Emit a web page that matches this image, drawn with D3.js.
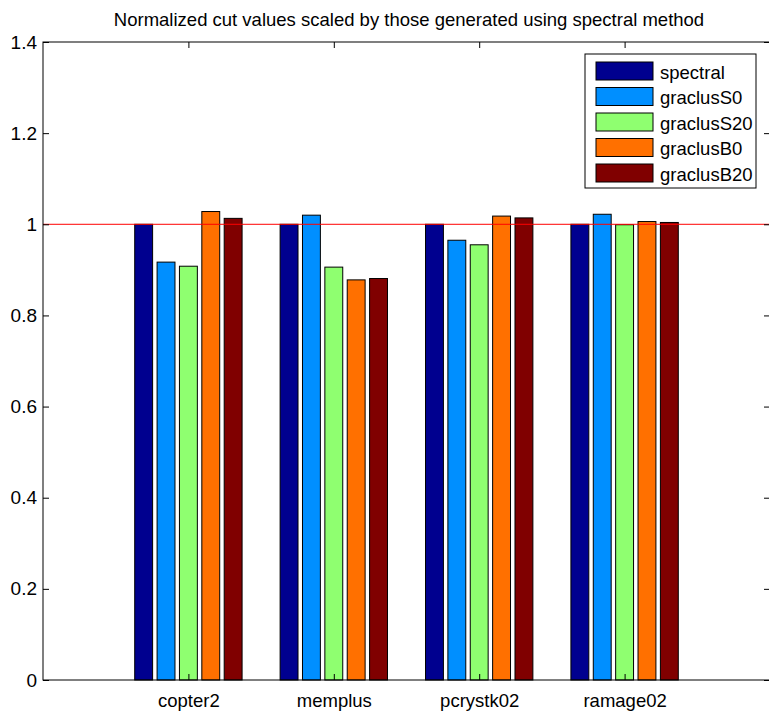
<!DOCTYPE html>
<html>
<head>
<meta charset="utf-8">
<script src="https://cdn.jsdelivr.net/npm/d3@7"></script>
<style>
  html, body { margin: 0; padding: 0; background: #fff; }
  svg { display: block; font-family: "Liberation Sans", Arial, Helvetica, sans-serif; }
</style>
</head>
<body>
<svg id="chart" width="769" height="712"></svg>
<script>
// Graphs on the x axis
const categories = ["copter2", "memplus", "pcrystk02", "ramage02"];
// Partitioning methods (one bar per method in each group)
const seriesNames = ["spectral", "graclusS0", "graclusS20", "graclusB0", "graclusB20"];
const seriesColors = ["#00008f", "#008fff", "#8fff70", "#ff7000", "#800000"];
// Normalized cut values, relative to the spectral method
const spectral   = [1.000, 1.000, 1.000, 1.000];
const graclusS0  = [0.917, 1.020, 0.965, 1.022];
const graclusS20 = [0.908, 0.906, 0.955, 0.999];
const graclusB0  = [1.028, 0.878, 1.018, 1.006];
const graclusB20 = [1.013, 0.881, 1.014, 1.004];
const yTicks = [0, 0.2, 0.4, 0.6, 0.8, 1, 1.2, 1.4];
const referenceLevel = 1;
const title = "Normalized cut values scaled by those generated using spectral method";

const seriesValues = [spectral, graclusS0, graclusS20, graclusB0, graclusB20];

const svg = d3.select("#chart");
const plotL = 43, plotR = 770, plotT = 42, plotB = 680;

// Categories sit at integer positions 1..n, axis runs 0..n+1
const x = d3.scaleLinear().domain([0, categories.length + 1]).range([plotL, plotR]);
const y = d3.scaleLinear().domain([0, 1.4]).range([plotB, plotT]);

const unit = x(1) - x(0);
const nS = seriesNames.length;
const groupWidth = Math.min(0.8, nS / (nS + 1.5));
const slot = groupWidth / nS;
const barW = slot * 0.8;

// Bars
seriesValues.forEach((vals, si) => {
  const offset = -groupWidth / 2 + slot * (si + 0.5);
  svg.append("g").selectAll("rect")
    .data(vals)
    .join("rect")
    .attr("x", (d, i) => x(i + 1 + offset) - barW * unit / 2)
    .attr("width", barW * unit)
    .attr("y", d => y(d))
    .attr("height", d => y(0) - y(d))
    .attr("fill", seriesColors[si])
    .attr("stroke", "#000")
    .attr("stroke-width", 1);
});

// Reference line at 1
svg.append("line")
  .attr("x1", plotL).attr("x2", plotR)
  .attr("y1", y(referenceLevel)).attr("y2", y(referenceLevel))
  .attr("stroke", "#ff0000").attr("stroke-width", 1);

// Axes box
svg.append("rect")
  .attr("x", plotL).attr("y", plotT)
  .attr("width", plotR - plotL).attr("height", plotB - plotT)
  .attr("fill", "none").attr("stroke", "#000").attr("stroke-width", 1);

// Left y axis (inward ticks)
const yAxisL = d3.axisLeft(y).tickValues(yTicks).tickSize(-6).tickPadding(6)
  .tickFormat(d => d3.format("~g")(d));
const gL = svg.append("g").attr("transform", `translate(${plotL},0)`).call(yAxisL);
gL.select(".domain").remove();
gL.selectAll("text").attr("font-size", 19).attr("fill", "#000");

// Right y axis ticks (inward)
const yAxisR = d3.axisRight(y).tickValues(yTicks).tickSize(-6).tickFormat("");
const gR = svg.append("g").attr("transform", `translate(${plotR},0)`).call(yAxisR);
gR.select(".domain").remove();

// Bottom x axis labels
const xAxisB = d3.axisBottom(x).tickValues(d3.range(1, categories.length + 1))
  .tickSize(-6).tickPadding(14).tickFormat(d => categories[d - 1]);
const gB = svg.append("g").attr("transform", `translate(0,${plotB})`).call(xAxisB);
gB.select(".domain").remove();
gB.selectAll("text").attr("font-size", 18.5).attr("fill", "#000");

// Top ticks
const xAxisT = d3.axisTop(x).tickValues(d3.range(1, categories.length + 1))
  .tickSize(-6).tickFormat("");
const gT = svg.append("g").attr("transform", `translate(0,${plotT})`).call(xAxisT);
gT.select(".domain").remove();

// Title
svg.append("text")
  .attr("x", 409).attr("y", 26)
  .attr("text-anchor", "middle")
  .attr("font-size", 18.5)
  .attr("fill", "#000")
  .text(title);

// Legend
const lg = svg.append("g").attr("transform", "translate(585,54)");
lg.append("rect").attr("width", 171).attr("height", 134)
  .attr("fill", "#fff").attr("stroke", "#000").attr("stroke-width", 1);
seriesNames.forEach((name, i) => {
  const row = lg.append("g").attr("transform", `translate(11,${8 + i * 25.5})`);
  row.append("rect").attr("width", 57).attr("height", 18)
    .attr("fill", seriesColors[i]).attr("stroke", "#000").attr("stroke-width", 1);
  row.append("text").attr("x", 64).attr("y", 16.5)
    .attr("font-size", 18.5).attr("fill", "#000").text(name);
});
</script>
</body>
</html>
